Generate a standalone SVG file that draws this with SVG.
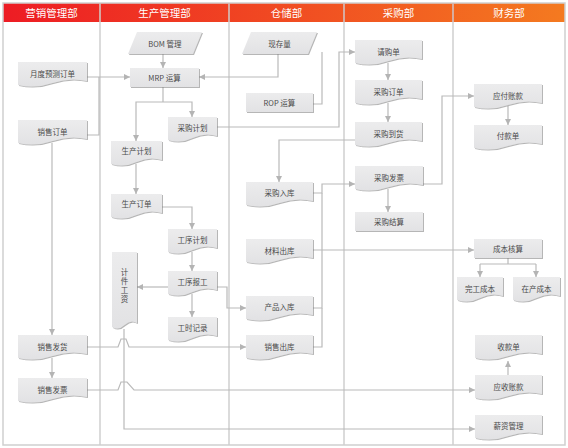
<svg xmlns="http://www.w3.org/2000/svg" width="568" height="448" viewBox="0 0 568 448">
<defs>
<linearGradient id="hdr" x1="0" y1="0" x2="1" y2="0">
<stop offset="0" stop-color="#ED1C24"/>
<stop offset="1" stop-color="#F47A20"/>
</linearGradient>
<linearGradient id="nf" x1="0" y1="0" x2="0" y2="1">
<stop offset="0" stop-color="#ececed"/>
<stop offset="1" stop-color="#e2e2e4"/>
</linearGradient>
<filter id="sh" x="-10%" y="-10%" width="130%" height="140%">
<feDropShadow dx="1" dy="1" stdDeviation="0.6" flood-color="#7a7a7a" flood-opacity="0.55"/>
</filter>
<marker id="ar" markerUnits="userSpaceOnUse" markerWidth="7" markerHeight="7" refX="6" refY="3" orient="auto">
<path d="M0,0 L6,3 L0,6 z" fill="#b4b4b4"/>
</marker>
<style>
.n{fill:url(#nf);filter:url(#sh)}
.t{font-family:"Noto Sans CJK SC","Liberation Sans",sans-serif;font-size:7.5px;fill:#4a4a4a;text-anchor:middle;dominant-baseline:central}
.v{writing-mode:vertical-rl;letter-spacing:1.5px}
.h{font-family:"Noto Sans CJK SC","Liberation Sans",sans-serif;font-size:10.5px;fill:#ffffff;text-anchor:middle;dominant-baseline:central}
.lane{stroke:#cfcfcf;stroke-width:1.5;fill:none}
.c{stroke:#bababa;stroke-width:1.2;fill:none}
.a{marker-end:url(#ar)}
</style>
</defs>
<rect x="0" y="0" width="568" height="448" fill="#ffffff"/>
<g id="lanes">
<rect x="3" y="3" width="562" height="19" fill="url(#hdr)"/>
<rect x="3" y="3" width="562" height="442" class="lane"/>
<path class="lane" d="M100,3 V445 M229,3 V445 M344,3 V445 M453,3 V445"/>
<path d="M100,3 V22 M229,3 V22 M344,3 V22 M453,3 V22" stroke="#d8a49a" stroke-width="1"/>
<text class="h" x="51.5" y="12.5">营销管理部</text>
<text class="h" x="164.5" y="12.5">生产管理部</text>
<text class="h" x="286.5" y="12.5">仓储部</text>
<text class="h" x="398.5" y="12.5">采购部</text>
<text class="h" x="509" y="12.5">财务部</text>
</g>
<g id="connectors">
<path class="c a" d="M163,54 V68"/>
<path class="c a" d="M87,77 H130"/>
<path class="c" d="M87,135 H99 V77"/>
<path class="c a" d="M278,54 V77 H199"/>
<path class="c" d="M163,87 V102"/>
<path class="c a" d="M163,102 H136 V141"/>
<path class="c a" d="M163,102 H192 V117"/>
<path class="c a" d="M217,127 H339 V52 H355"/>
<path class="c" d="M313,104 H322 V52"/>
<path class="c a" d="M388,63 V80"/>
<path class="c a" d="M388,103 V122"/>
<path class="c a" d="M355,140 H279 V182"/>
<path class="c a" d="M313,193 H322 V184 H355"/>
<path class="c" d="M313,308 H322 V193"/>
<path class="c" d="M313,347 H322 V308"/>
<path class="c a" d="M388,189 V212"/>
<path class="c a" d="M423,184 H442 V96 H474"/>
<path class="c a" d="M508,106 V125"/>
<path class="c a" d="M313,250 H474"/>
<path class="c" d="M508,258 V264 M480,264 H536"/>
<path class="c a" d="M480,264 V277"/>
<path class="c a" d="M536,264 V277"/>
<path class="c a" d="M136,164 V194"/>
<path class="c a" d="M162,207 H192 V229"/>
<path class="c a" d="M192,252 V271"/>
<path class="c a" d="M168,287 H137"/>
<path class="c a" d="M192,294 V317"/>
<path class="c a" d="M217,287 H227 V308 H246"/>
<path class="c a" d="M52,143 V335"/>
<path class="c a" d="M52,358 V378"/>
<path class="c a" d="M87,347 H118 L121,339 H126 L129,347 H246"/>
<path class="c a" d="M87,390 H118 L121,382 H127 L134,390 H475"/>
<path class="c a" d="M124,329 V429 H475"/>
<path class="c a" d="M508,375 V361"/>
</g>
<g id="n-yuedu"><path class="n" d="M18,62 H87 V81 Q69.75,77 52.5,83 T18,85 Z"/><text class="t" x="52.5" y="73">月度预测订单</text></g>
<g id="n-xsdd"><path class="n" d="M18,120 H87 V139 Q69.75,135 52.5,141 T18,143 Z"/><text class="t" x="52.5" y="131.5">销售订单</text></g>
<g id="n-xsfh"><path class="n" d="M18,335 H87 V354 Q69.75,350 52.5,356 T18,358 Z"/><text class="t" x="52.5" y="346">销售发货</text></g>
<g id="n-xsfp"><path class="n" d="M18,378 H87 V397 Q69.75,393 52.5,399 T18,401 Z"/><text class="t" x="52.5" y="389">销售发票</text></g>
<g id="n-bom"><path class="n" d="M137,32 H202 L193,54 H128 Z"/><text class="t" x="165" y="43">BOM 管理</text></g>
<g id="n-mrp"><rect class="n" x="130" y="68" width="69" height="19"/><text class="t" x="164.5" y="77.5">MRP 运算</text></g>
<g id="n-cgjh"><path class="n" d="M168,117 H217 V136 Q204.75,132 192.5,138 T168,140 Z"/><text class="t" x="192.5" y="127">采购计划</text></g>
<g id="n-scjh"><path class="n" d="M111,141 H162 V160 Q149.25,156 136.5,162 T111,164 Z"/><text class="t" x="136.5" y="150">生产计划</text></g>
<g id="n-scdd"><path class="n" d="M111,194 H162 V213 Q149.25,209 136.5,215 T111,217 Z"/><text class="t" x="136.5" y="203.5">生产订单</text></g>
<g id="n-gxjh"><path class="n" d="M168,229 H217 V248 Q204.75,244 192.5,250 T168,252 Z"/><text class="t" x="192.5" y="239.5">工序计划</text></g>
<g id="n-gxbg"><path class="n" d="M168,271 H217 V290 Q204.75,286 192.5,292 T168,294 Z"/><text class="t" x="192.5" y="281.5">工序报工</text></g>
<g id="n-gsjl"><path class="n" d="M168,317 H217 V336 Q204.75,332 192.5,338 T168,340 Z"/><text class="t" x="192.5" y="327">工时记录</text></g>
<g id="n-jjgz"><path class="n" d="M112,252 H137 V323 Q130.75,319 124.5,325 T112,327 Z"/><text class="t v" x="124.5" y="286">计件工资</text></g>
<g id="n-xcl"><path class="n" d="M251,32 H317 L308,54 H242 Z"/><text class="t" x="279.5" y="43">现存量</text></g>
<g id="n-rop"><rect class="n" x="246" y="93" width="67" height="19"/><text class="t" x="279.5" y="102.5">ROP 运算</text></g>
<g id="n-cgrk"><path class="n" d="M246,182 H313 V201 Q296.25,197 279.5,203 T246,205 Z"/><text class="t" x="279.5" y="192.5">采购入库</text></g>
<g id="n-clck"><path class="n" d="M246,239 H313 V258 Q296.25,254 279.5,260 T246,262 Z"/><text class="t" x="279.5" y="250">材料出库</text></g>
<g id="n-cprk"><path class="n" d="M246,296 H313 V315 Q296.25,311 279.5,317 T246,319 Z"/><text class="t" x="279.5" y="306.5">产品入库</text></g>
<g id="n-xsck"><path class="n" d="M246,335 H313 V354 Q296.25,350 279.5,356 T246,358 Z"/><text class="t" x="279.5" y="346">销售出库</text></g>
<g id="n-qgd"><path class="n" d="M355,40 H422 V59 Q405.25,55 388.5,61 T355,63 Z"/><text class="t" x="388.5" y="51.5">请购单</text></g>
<g id="n-cgdd"><path class="n" d="M355,80 H422 V99 Q405.25,95 388.5,101 T355,103 Z"/><text class="t" x="388.5" y="91.5">采购订单</text></g>
<g id="n-cgdh"><path class="n" d="M355,122 H422 V141 Q405.25,137 388.5,143 T355,145 Z"/><text class="t" x="388.5" y="133.5">采购到货</text></g>
<g id="n-cgfp"><path class="n" d="M355,166 H423 V185 Q406,181 389,187 T355,189 Z"/><text class="t" x="389" y="177.5">采购发票</text></g>
<g id="n-cgjs"><rect class="n" x="355" y="212" width="68" height="19"/><text class="t" x="389" y="221.5">采购结算</text></g>
<g id="n-yfzk"><path class="n" d="M474,84 H542 V103 Q525,99 508,105 T474,107 Z"/><text class="t" x="508" y="95.5">应付账款</text></g>
<g id="n-fkd"><path class="n" d="M474,125 H542 V144 Q525,140 508,146 T474,148 Z"/><text class="t" x="508" y="135.5">付款单</text></g>
<g id="n-cbhs"><rect class="n" x="474" y="239" width="68" height="19"/><text class="t" x="508" y="248.5">成本核算</text></g>
<g id="n-wgcb"><path class="n" d="M457,277 H503 V296 Q491.5,292 480,298 T457,300 Z"/><text class="t" x="480" y="288">完工成本</text></g>
<g id="n-zccb"><path class="n" d="M513,277 H560 V296 Q548.25,292 536.5,298 T513,300 Z"/><text class="t" x="536.5" y="288">在产成本</text></g>
<g id="n-skd"><path class="n" d="M475,335 H542 V354 Q525.25,350 508.5,356 T475,358 Z"/><text class="t" x="508.5" y="346">收款单</text></g>
<g id="n-yszk"><path class="n" d="M475,375 H542 V394 Q525.25,390 508.5,396 T475,398 Z"/><text class="t" x="508.5" y="386">应收账款</text></g>
<g id="n-xzgl"><path class="n" d="M475,415 H542 V434 Q525.25,430 508.5,436 T475,438 Z"/><text class="t" x="508.5" y="425.5">薪资管理</text></g>
</svg>
